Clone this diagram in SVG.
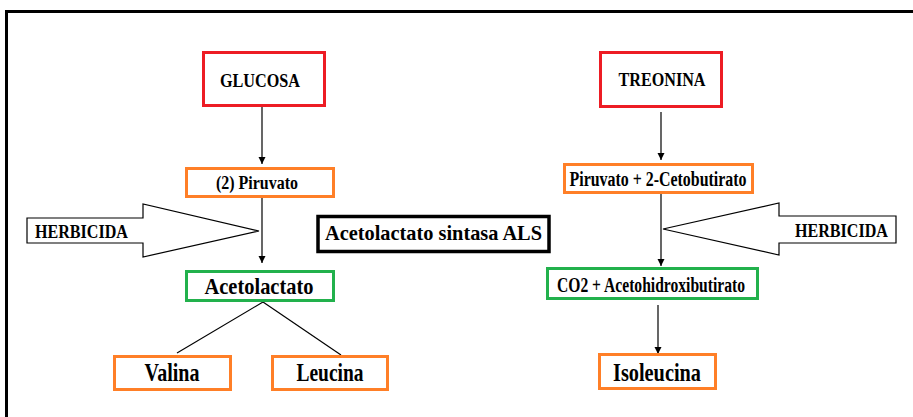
<svg xmlns="http://www.w3.org/2000/svg" width="913" height="417" viewBox="0 0 913 417">
<defs>
<marker id="ah" markerWidth="8" markerHeight="8" refX="7" refY="4" orient="auto" markerUnits="userSpaceOnUse">
<path d="M0,0.5 L7,4 L0,7.5 Z" fill="#000"/>
</marker>
<style>
text{font-family:"Liberation Serif","Times New Roman",serif;font-weight:bold;fill:#000;text-anchor:middle}
.red{fill:#fff;stroke:#ed1c24;stroke-width:3}
.org{fill:#fff;stroke:#ff7f27;stroke-width:3}
.grn{fill:#fff;stroke:#22b14c;stroke-width:3}
.blk{fill:#fff;stroke:#000;stroke-width:3.5}
.ln{stroke:#000;stroke-width:1.2;fill:none}
.big{fill:#fff;stroke:#000;stroke-width:1.2}
</style>
</defs>
<rect width="913" height="417" fill="#fff"/>
<path d="M6.5,417 V11.5 H913" fill="none" stroke="#000" stroke-width="3"/>

<g id="connectors">
<line class="ln" x1="262" y1="106" x2="262" y2="164" marker-end="url(#ah)"/>
<line class="ln" x1="262" y1="198" x2="262" y2="263" marker-end="url(#ah)"/>
<line class="ln" x1="263" y1="302" x2="177" y2="353"/>
<line class="ln" x1="263" y1="302" x2="341" y2="355"/>
<line class="ln" x1="661" y1="112" x2="661" y2="160" marker-end="url(#ah)"/>
<line class="ln" x1="661" y1="194" x2="661" y2="266" marker-end="url(#ah)"/>
<line class="ln" x1="658" y1="305" x2="658" y2="354" marker-end="url(#ah)"/>
</g>

<g id="herbicida-left">
<polygon class="big" points="27,218 143,218 143,204 259,231 143,257 143,243 27,243"/>
<text x="81.5" y="238" font-size="19" textLength="93" lengthAdjust="spacingAndGlyphs">HERBICIDA</text>
</g>
<g id="herbicida-right">
<polygon class="big" points="896,216 779,216 779,203 663,229 779,255 779,243 896,243"/>
<text x="841.5" y="237" font-size="19" textLength="93" lengthAdjust="spacingAndGlyphs">HERBICIDA</text>
</g>

<g id="glucosa">
<rect class="red" x="203.5" y="52.5" width="121" height="53"/>
<text x="260" y="87" font-size="19" textLength="80" lengthAdjust="spacingAndGlyphs">GLUCOSA</text>
</g>
<g id="piruvato">
<rect class="org" x="186.5" y="168.5" width="147" height="28"/>
<text x="257" y="189" font-size="18" textLength="82" lengthAdjust="spacingAndGlyphs">(2) Piruvato</text>
</g>
<g id="acetolactato">
<rect class="grn" x="186.5" y="271.5" width="147" height="29"/>
<text x="259" y="294" font-size="23" textLength="109" lengthAdjust="spacingAndGlyphs">Acetolactato</text>
</g>
<g id="als">
<rect class="blk" x="318" y="216.5" width="231" height="35"/>
<text x="433.5" y="240" font-size="22" textLength="217" lengthAdjust="spacingAndGlyphs">Acetolactato sintasa ALS</text>
</g>
<g id="valina">
<rect class="org" x="114.5" y="356.5" width="116" height="33"/>
<text x="172" y="381" font-size="25" textLength="55" lengthAdjust="spacingAndGlyphs">Valina</text>
</g>
<g id="leucina">
<rect class="org" x="272.5" y="356.5" width="115" height="33"/>
<text x="330" y="381" font-size="25" textLength="67" lengthAdjust="spacingAndGlyphs">Leucina</text>
</g>
<g id="treonina">
<rect class="red" x="600.5" y="52.5" width="121" height="54"/>
<text x="662" y="86" font-size="19" textLength="87" lengthAdjust="spacingAndGlyphs">TREONINA</text>
</g>
<g id="piruvato-cetobutirato">
<rect class="org" x="564.5" y="164.5" width="188" height="28"/>
<text x="658" y="186" font-size="20" textLength="177" lengthAdjust="spacingAndGlyphs">Piruvato + 2-Cetobutirato</text>
</g>
<g id="co2">
<rect class="grn" x="547.5" y="268.5" width="210" height="30"/>
<text x="651" y="292" font-size="20" textLength="188" lengthAdjust="spacingAndGlyphs">CO2 + Acetohidroxibutirato</text>
</g>
<g id="isoleucina">
<rect class="org" x="599.5" y="354.5" width="116" height="34"/>
<text x="657" y="381" font-size="25" textLength="88" lengthAdjust="spacingAndGlyphs">Isoleucina</text>
</g>
</svg>
